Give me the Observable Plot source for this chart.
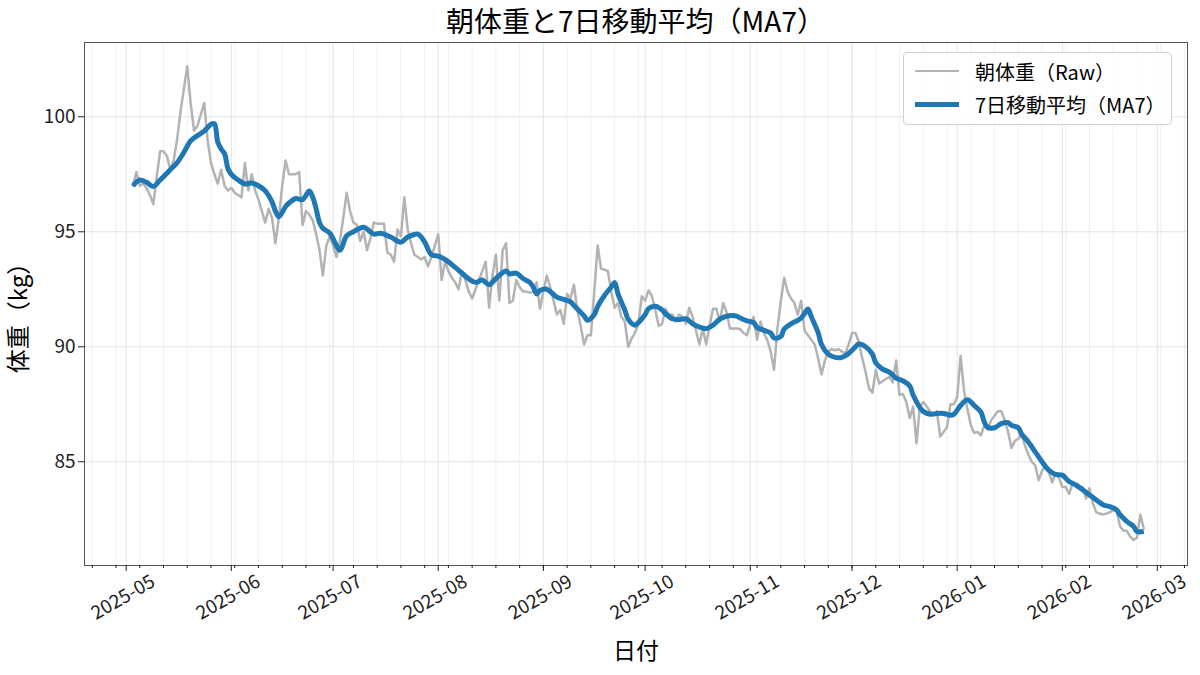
<!DOCTYPE html>
<html>
<head>
<meta charset="utf-8">
<script src="https://cdn.jsdelivr.net/npm/d3@7"></script>
<script src="https://cdn.jsdelivr.net/npm/@observablehq/plot@0.6"></script>
<style>
  html, body { margin: 0; padding: 0; background: #fff; }
  #wrap { position: relative; width: 1200px; height: 675px; overflow: hidden; background: #fff;
          font-family: "Noto Sans CJK JP", "Noto Sans", sans-serif; color: #000; }
  #title { position: absolute; left: 635.5px; top: 0px; transform: translateX(-50%); z-index: 2;
           font-size: 28px; line-height: normal; white-space: nowrap; }
  #chart { position: absolute; left: 0; top: 36px; z-index: 1; }
  #legend { position: absolute; left: 903px; top: 52px; width: 269px; height: 73px; z-index: 3;
            border: 1px solid #d0d0d0; border-radius: 4px; background: rgba(255,255,255,0.85);
            box-sizing: border-box; font-size: 20px; }
  .item { position: absolute; left: 0; height: 26px; display: flex; align-items: center; white-space: nowrap; }
  .sw { display: inline-block; width: 44px; margin-left: 11px; margin-right: 16px; }
</style>
</head>
<body>
<div id="wrap">
  <div id="title">朝体重と7日移動平均（MA7）</div>
  <div id="chart"></div>
  <div id="legend">
    <div class="item" style="top:5px"><span class="sw" style="border-top:2.5px solid #b3b3b3"></span><span>朝体重（Raw）</span></div>
    <div class="item" style="top:38px"><span class="sw" style="border-top:5px solid #1f77b4"></span><span>7日移動平均（MA7）</span></div>
  </div>
</div>
<script>
// ---- Raw morning weight (kg), one value per day, starting 2025-05-03 ----
const rawStart = "2025-05-03";
const rawMay = [97.0, 97.6, 97.0, 97.1, 96.9, 96.6, 96.2, 97.4, 98.5, 98.5, 98.3, 97.7, 98.1, 99.0, 100.2, 101.2, 102.2, 100.6, 99.4, 99.6, 100.1, 100.6, 99.0, 98.0, 97.5, 97.1, 97.7, 97.0, 96.8];
const rawJun = [96.9, 96.7, 96.6, 96.5, 98.0, 96.8, 97.5, 96.8, 96.4, 95.9, 95.4, 96.0, 95.6, 94.5, 95.6, 97.0, 98.1, 97.5, 97.5, 97.5, 97.6, 95.3, 95.9, 95.75, 95.5, 94.9, 94.2, 93.1, 94.4, 94.8];
const rawJul = [94.4, 93.9, 94.6, 95.6, 96.7, 95.9, 95.4, 95.3, 94.6, 95.0, 94.2, 94.7, 95.4, 95.35, 95.35, 95.35, 94.1, 94.0, 93.7, 95.1, 94.8, 96.5, 95.1, 94.5, 94.0, 93.9, 93.8, 93.9, 93.5, 93.9, 94.4];
const rawAug = [94.9, 92.9, 93.7, 93.3, 93.0, 92.8, 92.5, 93.3, 92.9, 92.4, 92.1, 92.5, 92.9, 93.3, 93.7, 91.7, 93.1, 94.0, 92.0, 94.2, 94.5, 91.9, 92.0, 92.9, 92.6, 92.4, 92.4, 92.35, 92.4, 92.8, 91.65];
const rawSep = [92.4, 93.1, 92.6, 92.0, 91.4, 91.6, 91.0, 92.3, 92.1, 92.7, 91.6, 90.9, 90.1, 90.5, 90.5, 92.4, 94.4, 93.4, 93.35, 93.3, 92.4, 91.7, 91.9, 91.3, 91.1, 90.0, 90.35, 90.6, 91.0, 92.2];
const rawOct = [92.0, 92.45, 92.2, 91.6, 90.9, 91.0, 91.65, 91.4, 91.4, 91.1, 91.4, 91.3, 91.0, 91.7, 91.3, 90.7, 90.1, 90.8, 90.1, 90.9, 91.65, 91.65, 91.1, 91.9, 91.5, 90.8, 90.8, 90.8, 90.77, 90.6, 90.5];
const rawNov = [91.0, 91.3, 90.3, 91.1, 90.6, 90.3, 89.8, 89.0, 90.8, 92.0, 93.0, 92.4, 92.1, 91.9, 91.4, 92.0, 90.7, 90.5, 90.3, 90.1, 89.5, 88.8, 89.4, 89.8, 89.9, 89.85, 89.9, 89.8, 89.7, 90.1];
const rawDec = [90.6, 90.6, 90.2, 89.5, 88.9, 88.2, 88.0, 89.0, 88.4, 88.5, 88.6, 88.7, 88.45, 89.4, 87.9, 87.95, 87.6, 86.9, 87.4, 85.8, 87.4, 87.6, 87.4, 87.2, 87.0, 87.2, 86.1, 86.3, 86.5, 87.5, 87.5];
const rawJan = [87.8, 89.6, 88.1, 87.3, 86.6, 86.25, 86.3, 86.15, 86.6, 86.4, 86.8, 87.0, 87.2, 87.2, 86.8, 86.3, 85.6, 85.9, 86.0, 86.2, 85.7, 85.3, 85.0, 84.85, 84.2, 84.6, 84.85, 84.55, 84.1, 84.5, 84.3];
const rawFeb = [83.9, 83.9, 83.6, 84.05, 84.0, 83.9, 83.9, 83.4, 83.85, 83.2, 82.8, 82.75, 82.7, 82.75, 82.8, 82.9, 82.85, 82.2, 82.0, 82.0, 81.75, 81.6, 81.7, 82.7, 82.1];

// ---- 7-day moving average (kg), read at these dates ----
const maDates = ["2025-05-03","2025-05-05","2025-05-07","2025-05-09","2025-05-11","2025-05-13","2025-05-14","2025-05-16","2025-05-18","2025-05-20","2025-05-22","2025-05-24","2025-05-26","2025-05-27","2025-05-28","2025-05-29","2025-05-30","2025-05-31",
"2025-06-01","2025-06-03","2025-06-05","2025-06-07","2025-06-09","2025-06-11","2025-06-13","2025-06-14","2025-06-15","2025-06-17","2025-06-18","2025-06-20","2025-06-22","2025-06-24","2025-06-25","2025-06-26","2025-06-27","2025-06-28","2025-06-30",
"2025-07-01","2025-07-03","2025-07-05","2025-07-07","2025-07-10","2025-07-13","2025-07-15","2025-07-18","2025-07-21","2025-07-23","2025-07-26","2025-07-28","2025-07-30",
"2025-08-01","2025-08-03","2025-08-06","2025-08-08","2025-08-10","2025-08-12","2025-08-14","2025-08-16","2025-08-18","2025-08-21","2025-08-22","2025-08-24","2025-08-26","2025-08-28","2025-08-29","2025-08-30","2025-08-31",
"2025-09-02","2025-09-03","2025-09-05","2025-09-07","2025-09-09","2025-09-10","2025-09-12","2025-09-13","2025-09-14","2025-09-16","2025-09-17","2025-09-19","2025-09-21","2025-09-22","2025-09-23","2025-09-25","2025-09-26","2025-09-28","2025-09-29",
"2025-10-01","2025-10-02","2025-10-04","2025-10-06","2025-10-07","2025-10-09","2025-10-11","2025-10-13","2025-10-15","2025-10-17","2025-10-19","2025-10-21","2025-10-23","2025-10-25","2025-10-28","2025-10-29","2025-10-31",
"2025-11-02","2025-11-03","2025-11-05","2025-11-07","2025-11-08","2025-11-10","2025-11-11","2025-11-13","2025-11-15","2025-11-16","2025-11-17","2025-11-18","2025-11-19","2025-11-21","2025-11-22","2025-11-24","2025-11-26","2025-11-28","2025-11-30",
"2025-12-02","2025-12-03","2025-12-05","2025-12-07","2025-12-08","2025-12-10","2025-12-12","2025-12-14","2025-12-16","2025-12-18","2025-12-19","2025-12-21","2025-12-22","2025-12-24","2025-12-26","2025-12-28","2025-12-30","2025-12-31",
"2026-01-02","2026-01-04","2026-01-06","2026-01-08","2026-01-09","2026-01-10","2026-01-12","2026-01-14","2026-01-16","2026-01-17","2026-01-19","2026-01-20","2026-01-22","2026-01-24","2026-01-26","2026-01-28","2026-01-30",
"2026-02-01","2026-02-03","2026-02-05","2026-02-07","2026-02-09","2026-02-11","2026-02-13","2026-02-15","2026-02-17","2026-02-18","2026-02-20","2026-02-22","2026-02-23","2026-02-25"];
const maValues = [97.0, 97.25, 97.15, 96.97, 97.25, 97.55, 97.7, 98.0, 98.45, 98.95, 99.18, 99.38, 99.68, 99.7, 98.9, 98.6, 98.4, 97.75,
97.5, 97.25, 97.08, 97.12, 97.0, 96.78, 96.3, 95.9, 95.65, 96.1, 96.25, 96.45, 96.4, 96.77, 96.5, 96.0, 95.4, 95.15, 94.95,
94.7, 94.2, 94.83, 95.0, 95.2, 94.9, 94.94, 94.77, 94.55, 94.77, 94.9, 94.55, 94.0,
93.94, 93.8, 93.45, 93.2, 92.95, 92.8, 92.9, 92.7, 92.97, 93.3, 93.17, 93.2, 92.97, 92.8, 92.6, 92.3, 92.45,
92.5, 92.4, 92.16, 92.06, 91.95, 91.8, 91.5, 91.34, 91.15, 91.4, 91.75, 92.23, 92.6, 92.8, 92.3, 91.6, 91.2, 90.94, 91.05,
91.4, 91.66, 91.76, 91.6, 91.44, 91.22, 91.18, 91.22, 91.0, 90.86, 90.79, 90.94, 91.2, 91.33, 91.33, 91.25, 91.13,
91.05, 90.84, 90.72, 90.6, 90.38, 90.45, 90.77, 91.0, 91.15, 91.25, 91.45, 91.64, 91.3, 90.62, 90.1, 89.68, 89.54, 89.54, 89.71,
90.0, 90.12, 90.0, 89.68, 89.3, 89.03, 88.9, 88.64, 88.52, 88.3, 87.9, 87.36, 87.19, 87.07, 87.1, 87.1, 87.02, 87.06,
87.45, 87.7, 87.45, 87.16, 86.73, 86.5, 86.48, 86.66, 86.7, 86.58, 86.48, 86.2, 85.86, 85.43, 85.0, 84.64, 84.45,
84.42, 84.14, 83.99, 83.78, 83.56, 83.34, 83.13, 83.05, 82.91, 82.7, 82.41, 82.19, 81.97, 81.97];

// ---- axis ticks ----
const yTicks = [85, 90, 95, 100];
const monthTicks = ["2025-05-01","2025-06-01","2025-07-01","2025-08-01","2025-09-01","2025-10-01","2025-11-01","2025-12-01","2026-01-01","2026-02-01","2026-03-01"];

// ---- build tables ----
const DAY = 864e5;
const parse = d3.utcParse("%Y-%m-%d");
const rawValues = [...rawMay, ...rawJun, ...rawJul, ...rawAug, ...rawSep, ...rawOct, ...rawNov, ...rawDec, ...rawJan, ...rawFeb];
const t0 = parse(rawStart);
const raw = rawValues.map((v, i) => ({date: d3.utcDay.offset(t0, i), value: v}));
const ma = maDates.map((s, i) => ({date: parse(s), value: maValues[i]}));
const months = monthTicks.map(parse);

const may1 = +parse("2025-05-01");
const xDomain = [new Date(may1 - 12.29 * DAY), new Date(may1 + 312.9 * DAY)];
const weeks = d3.utcMonday.range(xDomain[0], xDomain[1]);
const fmt = d3.utcFormat("%Y-%m");

const chart = Plot.plot({
  width: 1200,
  height: 639,
  marginTop: 6,
  marginBottom: 110,
  marginLeft: 84,
  marginRight: 13,
  style: {fontFamily: "'Noto Sans CJK JP', 'Noto Sans', sans-serif", fontSize: "19px", color: "#222", background: "transparent"},
  x: {type: "utc", domain: xDomain},
  y: {domain: [80.49, 103.23]},
  marks: [
    Plot.ruleX(weeks, {stroke: "#ececec", strokeWidth: 0.8}),
    Plot.ruleX(months, {stroke: "#e3e3e3", strokeWidth: 1}),
    Plot.ruleY(yTicks, {stroke: "#e3e3e3", strokeWidth: 1}),
    Plot.line(raw, {x: "date", y: "value", stroke: "#b3b3b3", strokeWidth: 2.5, strokeLinejoin: "round"}),
    Plot.line(ma, {x: "date", y: "value", stroke: "#1f77b4", strokeWidth: 5, curve: "catmull-rom", strokeLinejoin: "round", strokeLinecap: "butt"}),
    Plot.frame({stroke: "#555", strokeWidth: 1}),
    Plot.axisX(weeks, {tickSize: 3, tickFormat: () => "", label: null}),
    Plot.axisX(months, {tickSize: 6, tickFormat: () => "", label: null}),
    Plot.text(months, {x: d => d, frameAnchor: "bottom", dx: -3, dy: 32, rotate: -30, textAnchor: "middle", lineAnchor: "middle", text: d => fmt(d), fontSize: 19, fill: "#222"}),
    Plot.axisY(yTicks, {tickSize: 6, tickPadding: 3, fontSize: 19, label: null}),
    Plot.text(["体重（kg）"], {frameAnchor: "left", textAnchor: "middle", dx: -65, dy: 8, rotate: -90, fontSize: 24, fill: "#000"}),
    Plot.text(["日付"], {frameAnchor: "bottom", dy: 93, fontSize: 23, fill: "#000"})
  ]
});
document.getElementById("chart").appendChild(chart);
</script>
</body>
</html>
